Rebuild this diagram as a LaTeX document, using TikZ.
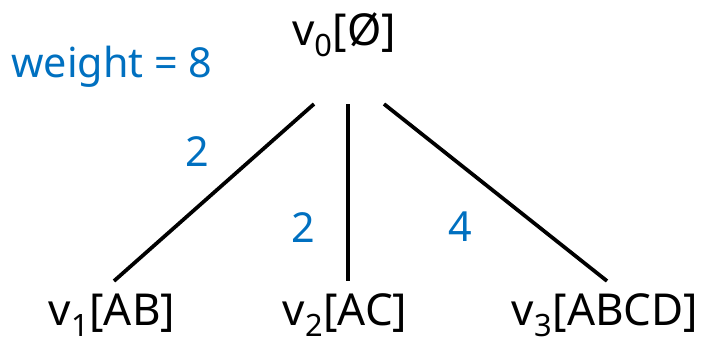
\documentclass[tikz,border=0pt]{standalone}
\usepackage{fontspec}
\setmainfont{Noto Sans}
\definecolor{wblue}{RGB}{0,112,192}

\tikzset{
  vert/.style={inner sep=0pt, font=\fontsize{33}{36}\selectfont},
  wlabel/.style={inner sep=0pt, text=wblue, font=\fontsize{31}{34}\selectfont},
  edge/.style={line width=2.8pt}
}

\begin{document}
\begin{tikzpicture}[x=0.75pt,y=-0.75pt]
  \useasboundingbox (0,0) rectangle (702,344);

  % vertices
  \node[vert] (v0) at (344,35) {v\textsubscript{0}[Ø]};
  \node[vert] (v1) at (112,315) {v\textsubscript{1}[AB]};
  \node[vert] (v2) at (345,315) {v\textsubscript{2}[AC]};
  \node[vert] (v3) at (605,315) {v\textsubscript{3}[ABCD]};

  % line ends
  \coordinate (t1) at (314,104);
  \coordinate (t2) at (348,104);
  \coordinate (t3) at (384,104);
  \coordinate (b1) at (114,281);
  \coordinate (b2) at (348,281);
  \coordinate (b3) at (607,281);

  \draw[edge] (t1) -- (b1);
  \draw[edge] (t2) -- (b2);
  \draw[edge] (t3) -- (b3);

  % weights
  \node[wlabel] (w1) at (197,152) {2};
  \node[wlabel] (w2) at (303,228) {2};
  \node[wlabel] (w3) at (460,227) {4};
  \node[wlabel] (wsum) at (112,67) {weight = 8};
\end{tikzpicture}
\end{document}
